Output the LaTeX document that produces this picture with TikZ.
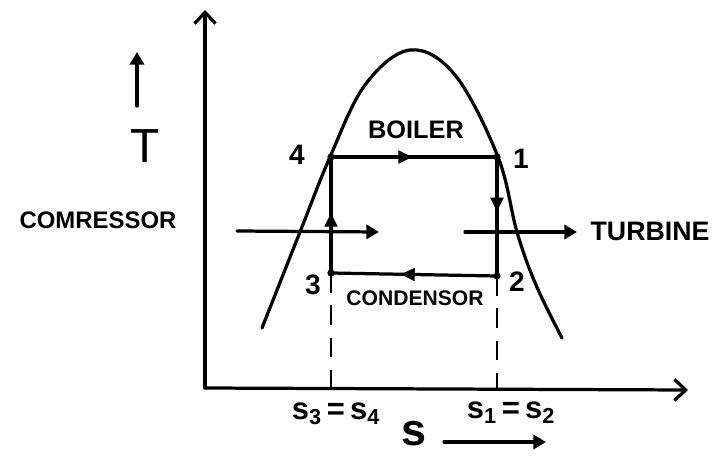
\documentclass[tikz,border=0pt]{standalone}
\usepackage{fontspec}
\setmainfont{Liberation Sans}
\usetikzlibrary{arrows.meta,decorations.markings,calc}

\begin{document}
\begin{tikzpicture}[
  x=0.025cm, y=-0.025cm,
  every node/.style={inner sep=1pt},
  hand/.style={line width=2.3pt,line cap=round,line join=round},
  axisline/.style={hand,-{Straight Barb[length=8pt,width=15pt,line width=2.3pt]}},
  flow/.style={hand,-{Triangle[length=9pt,width=10pt]}},
  midarrow/.style={postaction={decorate},decoration={markings,
      mark=at position #1 with {\arrow{Triangle[length=10pt,width=9pt]}}}},
  proj/.style={line width=1.8pt,dash pattern=on 14pt off 9pt},
  lbl/.style={font=\fontsize{18}{20}\selectfont\bfseries},
  numlbl/.style={font=\fontsize{20}{22}\selectfont\bfseries},
]
  \useasboundingbox (0,0) rectangle (714,459);

  % Axes
  \coordinate (o) at (205,388);
  \coordinate (xend) at (688,390);
  \coordinate (yend) at (205,10);
  \draw[axisline] (o) -- (yend);
  \draw[axisline] (o) -- (xend);

  % Saturation dome
  \draw[hand] plot[smooth,tension=0.6] coordinates
    {(262,328) (300,232) (330,157) (365,85) (410,50) (455,75)
     (498,157) (517,232) (536,285) (562,338)};

  % Cycle state points
  \coordinate (p1) at (497,157);
  \coordinate (p2) at (497,276);
  \coordinate (p3) at (331,273);
  \coordinate (p4) at (331,157);

  \draw[hand,midarrow=0.49] (p4) -- (p1);
  \draw[hand,midarrow=0.46] (p1) -- (p2);
  \draw[hand,midarrow=0.58] (p2) -- (p3);
  \draw[hand,midarrow=0.52] (p3) -- (p4);
  \foreach \p in {p1,p2,p3,p4} \fill (\p) circle (2.6pt);

  % Projections onto the s axis
  \draw[proj] (p3) -- (p3 |- o);
  \draw[proj] (p2) -- (p2 |- o);

  % Point labels
  \node[numlbl] (n4) at (297,155) {4};
  \node[numlbl] (n1) at (521,159) {1};
  \node[numlbl] (n2) at (517,282) {2};
  \node[numlbl] (n3) at (313,285) {3};

  % Process labels
  \node[lbl] (boiler) at (416,130) {BOILER};
  \node[font=\fontsize{15}{17}\selectfont\bfseries] (cond) at (415,298) {CONDENSOR};
  \node[font=\fontsize{17}{19}\selectfont\bfseries] (comp) at (98,220) {COMRESSOR};
  \node[font=\fontsize{19}{21}\selectfont\bfseries] (turb) at (650,231) {TURBINE};

  \coordinate (c0) at (237,231);
  \coordinate (c1) at (379,232);
  \coordinate (t0) at (465,232);
  \coordinate (t1) at (577,232);
  \draw[flow] (c0) -- (c1);
  \draw[flow] (t0) -- (t1);

  % Axis labels
  \node[font=\fontsize{34}{36}\selectfont] (tlbl) at (145,146) {T};
  \coordinate (ta0) at (137,106);
  \coordinate (ta1) at (137,52);
  \draw[flow] (ta0) -- (ta1);

  \node[font=\fontsize{22}{24}\selectfont\bfseries] (s34) at (336,414) {s\textsubscript{3}\,=\,s\textsubscript{4}};
  \node[font=\fontsize{22}{24}\selectfont\bfseries] (s12) at (511,413) {s\textsubscript{1}\,=\,s\textsubscript{2}};
  \node[font=\fontsize{32}{34}\selectfont\bfseries] (slbl) at (414,434) {s};
  \coordinate (sa0) at (444,442);
  \coordinate (sa1) at (546,442);
  \draw[flow] (sa0) -- (sa1);
\end{tikzpicture}
\end{document}
